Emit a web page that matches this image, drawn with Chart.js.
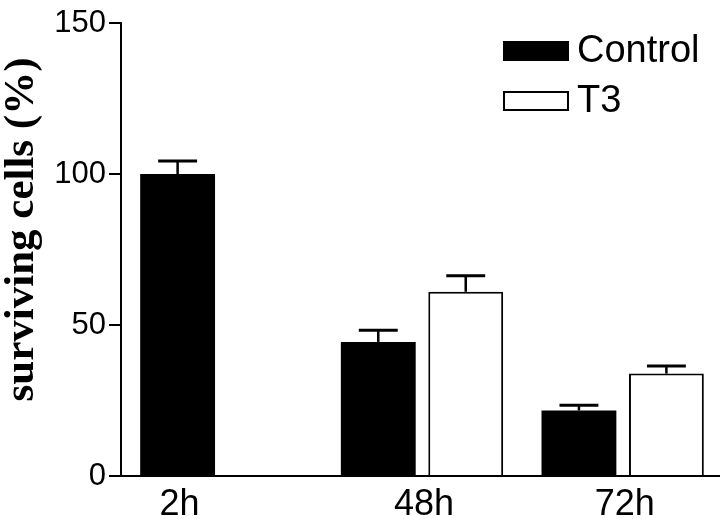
<!DOCTYPE html>
<html>
<head>
<meta charset="utf-8">
<script src="https://cdn.jsdelivr.net/npm/chart.js@4/dist/chart.umd.min.js"></script>
<style>
  html, body { margin: 0; padding: 0; background: #ffffff; overflow: hidden; }
  #wrap { width: 720px; height: 519px; overflow: hidden; position: relative; background: #ffffff; }
  canvas { display: block; }
</style>
</head>
<body>
<div id="wrap"><canvas id="c" width="723" height="519"></canvas></div>
<script>
// ---- data ----
const categories = ['2h', '48h', '72h'];
const seriesNames = ['Control', 'T3'];
const controlValues = [100, 44.4, 21.7];
const controlErrors = [4.3, 3.9, 1.7];
const t3Values = [null, 61.0, 33.9];
const t3Errors = [null, 5.3, 2.5];
const yTickValues = [0, 50, 100, 150];
const yTitle = 'surviving cells (%)';

const errorLists = [controlErrors, t3Errors];

// white page background behind everything
const backgroundPlugin = {
  id: 'bg',
  beforeDraw(chart) {
    const ctx = chart.ctx;
    ctx.save();
    ctx.fillStyle = '#ffffff';
    ctx.fillRect(0, 0, chart.width, chart.height);
    ctx.restore();
  }
};

// error bars drawn from each bar element and its value + error
const errorBarPlugin = {
  id: 'errorBars',
  afterDatasetsDraw(chart) {
    const ctx = chart.ctx;
    const yScale = chart.scales.y;
    ctx.save();
    chart.data.datasets.forEach((ds, di) => {
      const meta = chart.getDatasetMeta(di);
      const errs = errorLists[di];
      meta.data.forEach((el, i) => {
        const v = ds.data[i];
        if (v === null || v === undefined) return;
        const e = errs[i];
        const yTop = yScale.getPixelForValue(v);
        const yErr = yScale.getPixelForValue(v + e);
        const half = el.width * 0.26;
        ctx.strokeStyle = '#000';
        ctx.lineWidth = 2.5;
        ctx.beginPath();
        ctx.moveTo(el.x, yTop);
        ctx.lineTo(el.x, yErr);
        ctx.stroke();
        ctx.lineWidth = 3;
        ctx.beginPath();
        ctx.moveTo(el.x - half, yErr);
        ctx.lineTo(el.x + half, yErr);
        ctx.stroke();
      });
    });
    ctx.beginPath();
    ctx.restore();
  }
};

// category labels centered under the bars that exist in each group
const groupLabelPlugin = {
  id: 'groupLabels',
  afterDraw(chart) {
    const ctx = chart.ctx;
    const area = chart.chartArea;
    ctx.save();
    ctx.fillStyle = '#000';
    ctx.font = '36px "Liberation Sans", Arial, sans-serif';
    ctx.textAlign = 'center';
    ctx.textBaseline = 'alphabetic';
    categories.forEach((lab, i) => {
      let sum = 0, n = 0;
      chart.data.datasets.forEach((ds, di) => {
        const v = ds.data[i];
        if (v === null || v === undefined) return;
        sum += chart.getDatasetMeta(di).data[i].x;
        n++;
      });
      const x = n ? sum / n : chart.scales.x.getPixelForValue(i);
      ctx.fillText(lab, x + 2, area.bottom + 39);
    });
    ctx.restore();
  }
};

// rotated y-axis title
const yTitlePlugin = {
  id: 'yTitle',
  afterDraw(chart) {
    const ctx = chart.ctx;
    ctx.save();
    ctx.fillStyle = '#000';
    ctx.font = 'bold 43px "Liberation Serif", "Times New Roman", serif';
    ctx.translate(33, 229.5);
    ctx.rotate(-Math.PI / 2);
    ctx.textAlign = 'center';
    ctx.textBaseline = 'alphabetic';
    ctx.fillText(yTitle, 0, 0);
    ctx.restore();
  }
};

// legend inside the plot, top right
const insideLegendPlugin = {
  id: 'insideLegend',
  afterDraw(chart) {
    const ctx = chart.ctx;
    const area = chart.chartArea;
    const boxLeft = area.right - 220;
    ctx.save();
    ctx.font = '38px "Liberation Sans", Arial, sans-serif';
    ctx.textAlign = 'left';
    ctx.textBaseline = 'alphabetic';
    chart.data.datasets.forEach((ds, di) => {
      const top = 41 + di * 50;
      ctx.fillStyle = ds.backgroundColor;
      ctx.fillRect(boxLeft, top, 66, 20);
      ctx.strokeStyle = '#000';
      ctx.lineWidth = 2;
      ctx.strokeRect(boxLeft + 1, top + 1, 64, 18);
      ctx.fillStyle = '#000';
      ctx.fillText(ds.label, boxLeft + 74, top + 21);
    });
    ctx.restore();
  }
};

// keep the strip at the page's right edge above the axis clean
const edgePlugin = {
  id: 'edgeClean',
  afterDraw(chart) {
    const ctx = chart.ctx;
    const area = chart.chartArea;
    ctx.save();
    ctx.fillStyle = '#ffffff';
    ctx.fillRect(area.right - 7, 0, 7, area.bottom - 2);
    ctx.restore();
  }
};

new Chart(document.getElementById('c'), {
  type: 'bar',
  data: {
    labels: categories,
    datasets: [
      {
        label: seriesNames[0],
        data: controlValues,
        backgroundColor: '#000000',
        borderColor: '#000000',
        borderWidth: 0,
        categoryPercentage: 0.8716,
        barPercentage: 0.856
      },
      {
        label: seriesNames[1],
        data: t3Values,
        backgroundColor: '#ffffff',
        borderColor: '#000000',
        borderWidth: 2,
        categoryPercentage: 0.8716,
        barPercentage: 0.856
      }
    ]
  },
  options: {
    responsive: false,
    animation: false,
    devicePixelRatio: 1,
    layout: { padding: { top: 23, left: 0, right: 0, bottom: 0 } },
    plugins: {
      legend: { display: false },
      tooltip: { enabled: false },
      title: { display: false }
    },
    scales: {
      x: {
        type: 'category',
        offset: true,
        grid: { display: false },
        border: { display: true, color: '#000', width: 2 },
        ticks: { display: false },
        afterFit(scale) { scale.height = 43; }
      },
      y: {
        min: yTickValues[0],
        max: yTickValues[yTickValues.length - 1],
        afterBuildTicks(scale) { scale.ticks = yTickValues.map(v => ({ value: v })); },
        grid: { display: true, drawOnChartArea: false, drawTicks: true, tickLength: 12, color: '#000', lineWidth: 2 },
        border: { display: true, color: '#000', width: 2 },
        ticks: {
          color: '#000',
          padding: 3,
          font: { family: '"Liberation Sans", Arial, sans-serif', size: 31 }
        },
        afterFit(scale) { scale.width = 121; }
      }
    }
  },
  plugins: [backgroundPlugin, errorBarPlugin, groupLabelPlugin, yTitlePlugin, insideLegendPlugin, edgePlugin]
});
</script>
</body>
</html>
